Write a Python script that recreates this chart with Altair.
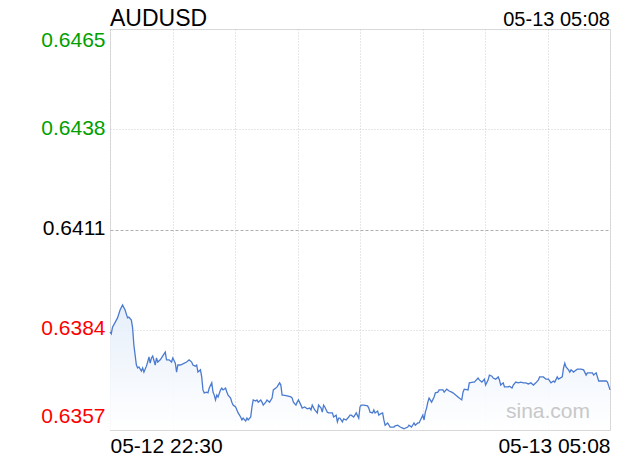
import altair as alt
import pandas as pd

minutes = [0, 1, 2, 6, 8, 10, 12, 14, 15, 17, 18, 19, 21, 22, 23, 25, 26, 27, 29, 30,
           31, 32, 33, 34, 36, 37, 38, 40, 41, 44, 45, 47, 49, 50, 52, 53, 54, 56, 58, 61,
           63, 65, 66, 68, 69, 70, 72, 73, 74, 75, 77, 78, 79, 81, 82, 83, 84, 85, 86, 88,
           89, 90, 92, 93, 94, 96, 97, 98, 100, 101, 102, 104, 105, 106, 108, 109, 110, 112, 113, 114,
           116, 117, 118, 120, 121, 122, 124, 125, 127, 129, 130, 132, 133, 135, 136, 137, 138, 141, 144, 145,
           146, 148, 149, 150, 152, 153, 155, 157, 159, 160, 161, 163, 165, 166, 168, 169, 170, 171, 173, 174,
           177, 178, 180, 181, 182, 183, 185, 186, 188, 190, 191, 192, 194, 196, 198, 199, 200, 202, 205, 206,
           207, 209, 210, 211, 213, 214, 215, 217, 218, 219, 221, 223, 225, 226, 227, 229, 231, 233, 234, 237,
           238, 240, 242, 243, 245, 246, 249, 250, 251, 252, 253, 254, 256, 258, 259, 261, 262, 265, 266, 268,
           270, 272, 273, 277, 278, 280, 281, 282, 285, 286, 289, 290, 293, 294, 296, 298, 299, 301, 302, 304,
           305, 307, 309, 310, 311, 313, 314, 317, 318, 320, 321, 323, 325, 327, 329, 331, 333, 335, 337, 339,
           341, 342, 345, 347, 349, 351, 353, 354, 356, 357, 360, 361, 362, 363, 365, 366, 367, 369, 370, 372,
           375, 377, 379, 380, 381, 384, 385, 387, 389, 392, 395, 396, 398]

prices = [0.63834, 0.63829, 0.63847, 0.63872, 0.63893, 0.63907, 0.63893, 0.63872, 0.63874, 0.63866,
          0.63845, 0.63799, 0.63745, 0.63737, 0.63740, 0.63729, 0.63737, 0.63726, 0.63742, 0.63753,
          0.63767, 0.63750, 0.63764, 0.63769, 0.63745, 0.63764, 0.63753, 0.63759, 0.63764, 0.63780,
          0.63759, 0.63759, 0.63753, 0.63764, 0.63750, 0.63726, 0.63745, 0.63745, 0.63748, 0.63753,
          0.63759, 0.63753, 0.63745, 0.63742, 0.63745, 0.63726, 0.63732, 0.63713, 0.63678, 0.63670,
          0.63672, 0.63670, 0.63683, 0.63697, 0.63672, 0.63664, 0.63651, 0.63664, 0.63659, 0.63678,
          0.63683, 0.63678, 0.63683, 0.63672, 0.63664, 0.63656, 0.63645, 0.63637, 0.63632, 0.63624,
          0.63616, 0.63605, 0.63597, 0.63602, 0.63594, 0.63602, 0.63597, 0.63605, 0.63632, 0.63651,
          0.63648, 0.63651, 0.63645, 0.63651, 0.63645, 0.63637, 0.63645, 0.63651, 0.63645, 0.63656,
          0.63678, 0.63683, 0.63686, 0.63697, 0.63691, 0.63664, 0.63664, 0.63662, 0.63659, 0.63656,
          0.63645, 0.63637, 0.63645, 0.63651, 0.63637, 0.63629, 0.63632, 0.63627, 0.63629, 0.63624,
          0.63637, 0.63624, 0.63616, 0.63637, 0.63629, 0.63618, 0.63637, 0.63632, 0.63618, 0.63616,
          0.63616, 0.63605, 0.63610, 0.63592, 0.63602, 0.63602, 0.63592, 0.63600, 0.63597, 0.63605,
          0.63610, 0.63610, 0.63605, 0.63616, 0.63602, 0.63632, 0.63637, 0.63637, 0.63635, 0.63629,
          0.63618, 0.63616, 0.63624, 0.63616, 0.63621, 0.63610, 0.63613, 0.63616, 0.63597, 0.63583,
          0.63589, 0.63578, 0.63578, 0.63578, 0.63581, 0.63583, 0.63578, 0.63575, 0.63573, 0.63578,
          0.63583, 0.63578, 0.63589, 0.63583, 0.63589, 0.63589, 0.63610, 0.63597, 0.63618, 0.63629,
          0.63645, 0.63656, 0.63645, 0.63659, 0.63670, 0.63672, 0.63678, 0.63678, 0.63672, 0.63680,
          0.63675, 0.63672, 0.63670, 0.63659, 0.63656, 0.63651, 0.63672, 0.63680, 0.63678, 0.63697,
          0.63699, 0.63699, 0.63710, 0.63705, 0.63699, 0.63707, 0.63691, 0.63705, 0.63718, 0.63715,
          0.63710, 0.63707, 0.63713, 0.63705, 0.63691, 0.63697, 0.63686, 0.63686, 0.63688, 0.63683,
          0.63691, 0.63699, 0.63697, 0.63699, 0.63697, 0.63697, 0.63694, 0.63697, 0.63691, 0.63697,
          0.63705, 0.63713, 0.63713, 0.63707, 0.63707, 0.63697, 0.63702, 0.63699, 0.63713, 0.63707,
          0.63713, 0.63737, 0.63750, 0.63740, 0.63732, 0.63726, 0.63732, 0.63726, 0.63729, 0.63734,
          0.63734, 0.63732, 0.63718, 0.63724, 0.63724, 0.63724, 0.63718, 0.63724, 0.63702, 0.63702,
          0.63702, 0.63699, 0.63678]

y_ticks = [0.6357, 0.6384, 0.6411, 0.6438, 0.6465]
prev_close = 0.6411
x_total = 398  # minutes from 05-12 22:30 to 05-13 05:08
x_ticks = [x_total * i / 8 for i in range(9)]
start_label = "05-12 22:30"
end_label = "05-13 05:08"
symbol = "AUDUSD"
stamp = "05-13 05:08"

df = pd.DataFrame({"m": minutes, "p": prices})

FONT = "Liberation Sans"

xscale = alt.Scale(domain=[0, x_total], nice=False, zero=False)
yscale = alt.Scale(domain=[y_ticks[0], y_ticks[-1]], nice=False, zero=False)

is_prev = f"abs(datum.value - {prev_close}) < 0.00001"
is_top = f"datum.value > {y_ticks[-1]} - 0.00001"
is_bottom = f"datum.value < {y_ticks[0]} + 0.00001"

x_axis = alt.Axis(
    values=x_ticks,
    labelExpr=f"datum.value == 0 ? '{start_label}' : (datum.value == {x_total} ? '{end_label}' : '')",
    labelFlush=True,
    labelFont=FONT, labelFontSize=21, labelColor="#000000", labelPadding=5,
    ticks=False, domain=False, title=None,
    grid=True, gridColor="#cfcfcf", gridDash=[1, 2], gridWidth=1,
)

y_axis = alt.Axis(
    values=y_ticks,
    format=".4f",
    labelFlush=False,
    labelBaseline="middle",
    labelOffset={
        "condition": [
            {"test": is_top, "value": 11},
            {"test": is_bottom, "value": -14},
        ],
        "value": -1,
    },
    labelFont=FONT, labelFontSize=21, labelPadding=5,
    labelColor={
        "condition": [
            {"test": f"datum.value > {prev_close} + 0.00001", "value": "#00a000"},
            {"test": f"datum.value < {prev_close} - 0.00001", "value": "#ff0000"},
        ],
        "value": "#000000",
    },
    ticks=False, domain=False, title=None,
    grid=True,
    gridColor={"condition": {"test": is_prev, "value": "#b0b0b0"}, "value": "#cfcfcf"},
    gridDash={"condition": {"test": is_prev, "value": [3, 2]}, "value": [1, 2]},
)

area = alt.Chart(df).mark_area(
    color=alt.Gradient(
        gradient="linear",
        stops=[alt.GradientStop(color="#e3edfa", offset=0),
               alt.GradientStop(color="#ffffff", offset=1)],
        x1=1, x2=1, y1=0, y2=1,
    ),
    opacity=0.9,
).encode(
    x=alt.X("m:Q", scale=xscale, axis=x_axis),
    y=alt.Y("p:Q", scale=yscale, axis=y_axis),
    y2=alt.datum(y_ticks[0]),
)

line = alt.Chart(df).mark_line(color="#4a7bd0", strokeWidth=1.3).encode(
    x=alt.X("m:Q", scale=xscale),
    y=alt.Y("p:Q", scale=yscale),
)

title_left = alt.Chart(pd.DataFrame({"t": [symbol]})).mark_text(
    font=FONT, fontSize=23, align="left", baseline="alphabetic", color="#000000"
).encode(x=alt.value(0), y=alt.value(-3), text="t:N")

title_right = alt.Chart(pd.DataFrame({"t": [stamp]})).mark_text(
    font=FONT, fontSize=20, align="right", baseline="alphabetic", color="#000000"
).encode(x=alt.value(500), y=alt.value(-3), text="t:N")

watermark = alt.Chart(pd.DataFrame({"t": ["sina.com"]})).mark_text(
    font=FONT, fontSize=21, align="left", baseline="middle", color="#c8c8c8"
).encode(x=alt.value(396), y=alt.value(383), text="t:N")

chart = alt.layer(area, line, watermark, title_left, title_right).properties(
    width=500, height=401,
    autosize=alt.AutoSizeParams(type="none"),
    padding={"left": 102, "top": 21, "right": 2, "bottom": 26},
).configure_view(stroke="#cccccc", strokeWidth=1).configure(background="white")

chart.save("out.html", embed_options={"renderer": "svg", "actions": False})
